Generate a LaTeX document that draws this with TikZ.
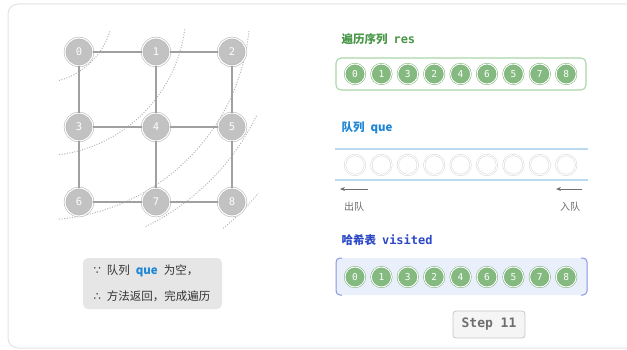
\documentclass[tikz,border=0pt]{standalone}
\usepackage{fontspec}
\setmainfont{DejaVu Sans}
\setmonofont{DejaVu Sans Mono}
\newfontfamily\cjk{Noto Sans CJK SC}
\newfontfamily\symfont{DejaVu Sans}
\newcommand{\codefont}{\ttfamily\bfseries\fontsize{12}{12}\selectfont}
\newcommand{\gap}{\hspace{6pt}}
\usetikzlibrary{arrows.meta}
\definecolor{framegray}{RGB}{226,226,226}
\definecolor{vgray}{RGB}{194,194,194}
\definecolor{vring}{RGB}{178,178,178}
\definecolor{egray}{RGB}{160,160,160}
\definecolor{lvlgray}{RGB}{180,180,180}
\definecolor{cgreen}{RGB}{132,186,128}
\definecolor{cring}{RGB}{120,176,116}
\definecolor{resgreen}{RGB}{72,150,72}
\definecolor{boxgreen}{RGB}{170,214,168}
\definecolor{queblue}{RGB}{30,134,214}
\definecolor{lineblue}{RGB}{186,218,242}
\definecolor{slotgray}{RGB}{214,214,214}
\definecolor{visblue}{RGB}{44,72,196}
\definecolor{visfill}{RGB}{234,239,252}
\definecolor{visline}{RGB}{132,150,228}
\definecolor{infogray}{RGB}{230,230,230}
\definecolor{txtgray}{RGB}{110,110,110}
\tikzset{
  vtx/.style={circle,minimum size=28pt,inner sep=0pt,fill=vgray,draw=vring,
    double=white,double distance=1.2pt,line width=0.5pt,text=white,
    font=\ttfamily\fontsize{10.5}{10.5}\selectfont},
  edge/.style={line width=1.4pt,egray},
  level/.style={line width=1pt,lvlgray,dash pattern=on 1pt off 1.6pt},
  cell/.style={circle,minimum size=20pt,inner sep=0pt,fill=cgreen,draw=cring,
    double=white,double distance=1pt,line width=0.5pt,text=white,
    font=\ttfamily\fontsize{9.5}{9.5}\selectfont},
  slot/.style={cell,fill=white,draw=slotgray},
  ttl/.style={anchor=west,font=\cjk\bfseries\fontsize{11.5}{12}\selectfont},
  note/.style={anchor=west,font=\cjk\fontsize{11.5}{12}\selectfont,text=black!80},
  sub/.style={font=\cjk\fontsize{10}{10}\selectfont,text=txtgray},
  qarrow/.style={line width=0.8pt,txtgray,-{Stealth[length=5pt,width=4pt]}},
}
\begin{document}
\begin{tikzpicture}[x=1pt,y=-1pt]
  \useasboundingbox (0,0) rectangle (627,350);
  \clip (0,0) rectangle (627,350);
  \draw[framegray,line width=1pt,rounded corners=10pt] (8,4) rectangle (660,348);
  % BFS levels around vertex 0
  \draw[level] ([shift={(40,10)}]75:73) arc[start angle=75,end angle=16,radius=73];
  \draw[level] ([shift={(40,10)}]82.5:146) arc[start angle=82.5,end angle=7,radius=146];
  \draw[level] ([shift={(40,10)}]84.8:210) arc[start angle=84.8,end angle=5.5,radius=210];
  \draw[level] ([shift={(40,10)}]64:241) arc[start angle=64,end angle=26,radius=241];
  \draw[level] ([shift={(40,10)}]50:285) arc[start angle=50,end angle=40,radius=285];
  % grid graph
  \node[vtx] (v0) at (79,52) {0};
  \node[vtx] (v1) at (156,52) {1};
  \node[vtx] (v2) at (232,52) {2};
  \node[vtx] (v3) at (79,127) {3};
  \node[vtx] (v4) at (156,127) {4};
  \node[vtx] (v5) at (232,127) {5};
  \node[vtx] (v6) at (79,202) {6};
  \node[vtx] (v7) at (156,202) {7};
  \node[vtx] (v8) at (232,202) {8};
  \draw[edge] (v0) -- (v1);
  \draw[edge] (v1) -- (v2);
  \draw[edge] (v3) -- (v4);
  \draw[edge] (v4) -- (v5);
  \draw[edge] (v6) -- (v7);
  \draw[edge] (v7) -- (v8);
  \draw[edge] (v0) -- (v3);
  \draw[edge] (v3) -- (v6);
  \draw[edge] (v1) -- (v4);
  \draw[edge] (v4) -- (v7);
  \draw[edge] (v2) -- (v5);
  \draw[edge] (v5) -- (v8);
  % explanation box
  \fill[infogray,rounded corners=5pt] (83,258) rectangle (222,309);
  \node[note] (why) at (90,271) {{\symfont ∵}\gap 队列\gap\textcolor{queblue}{\bfseries que}\gap 为空，};
  \node[note] (so) at (90,296) {{\symfont ∴}\gap 方法返回，完成遍历};
  % traversal order res
  \node[ttl,text=resgreen] (restitle) at (338,39) {遍历序列\gap{\codefont res}};
  \draw[boxgreen,line width=1.1pt,rounded corners=5pt] (336,58) rectangle (586,90);
  \node[cell] (r0) at (355,74) {0};
  \node[cell] (r1) at (381.4,74) {1};
  \node[cell] (r2) at (407.8,74) {3};
  \node[cell] (r3) at (434.2,74) {2};
  \node[cell] (r4) at (460.6,74) {4};
  \node[cell] (r5) at (487,74) {6};
  \node[cell] (r6) at (513.4,74) {5};
  \node[cell] (r7) at (539.8,74) {7};
  \node[cell] (r8) at (566.2,74) {8};
  % queue que (empty)
  \node[ttl,text=queblue] (quetitle) at (338,128) {队列\gap que};
  \draw[lineblue,line width=1.1pt] (335,149) -- (588,149);
  \draw[lineblue,line width=1.1pt] (335,180) -- (588,180);
  \node[slot] (q0) at (355,165) {};
  \node[slot] (q1) at (381.4,165) {};
  \node[slot] (q2) at (407.8,165) {};
  \node[slot] (q3) at (434.2,165) {};
  \node[slot] (q4) at (460.6,165) {};
  \node[slot] (q5) at (487,165) {};
  \node[slot] (q6) at (513.4,165) {};
  \node[slot] (q7) at (539.8,165) {};
  \node[slot] (q8) at (566.2,165) {};
  \coordinate (outA) at (368,189);
  \coordinate (outB) at (340,189);
  \coordinate (inA) at (582,189);
  \coordinate (inB) at (556,189);
  \draw[qarrow] (outA) -- (outB);
  \draw[qarrow] (inA) -- (inB);
  \node[sub] (deq) at (354,207) {出队};
  \node[sub] (enq) at (570,207) {入队};
  % hash set visited
  \node[ttl,text=visblue] (vistitle) at (338,240) {哈希表\gap{\codefont visited}};
  \fill[visfill,rounded corners=5pt] (336,258) rectangle (587,295);
  \draw[visline,line width=1pt,rounded corners=4pt] (342,258) -| (336,295) -- (342,295);
  \draw[visline,line width=1pt,rounded corners=4pt] (581,258) -| (587,295) -- (581,295);
  \node[cell] (h0) at (355,277) {0};
  \node[cell] (h1) at (381.4,277) {1};
  \node[cell] (h2) at (407.8,277) {3};
  \node[cell] (h3) at (434.2,277) {2};
  \node[cell] (h4) at (460.6,277) {4};
  \node[cell] (h5) at (487,277) {6};
  \node[cell] (h6) at (513.4,277) {5};
  \node[cell] (h7) at (539.8,277) {7};
  \node[cell] (h8) at (566.2,277) {8};
  % step counter
  \node[draw=black!22,fill=black!4,line width=0.8pt,rounded corners=3pt,
    minimum width=72pt,minimum height=27pt,inner sep=0pt,text=txtgray,
    font=\ttfamily\bfseries\fontsize{13}{13}\selectfont] (step) at (489,324.5) {Step 11};
\end{tikzpicture}
\end{document}
